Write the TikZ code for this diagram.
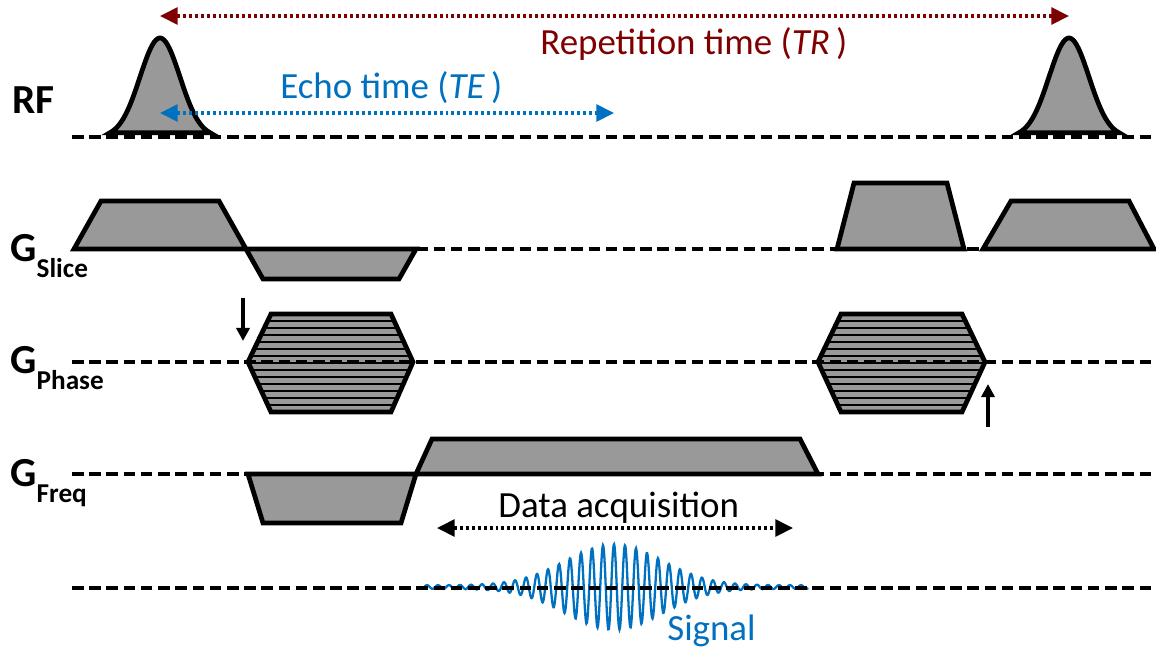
\documentclass[tikz,border=0pt]{standalone}
\usepackage{fontspec}
\setmainfont{Carlito}
\usetikzlibrary{arrows.meta}
\definecolor{trred}{HTML}{7F0000}
\definecolor{teblue}{HTML}{0070C0}

\begin{document}
\begin{tikzpicture}[x=0.02cm, y=-0.02cm,
        lobe/.style={draw=black, fill=black!40, line width=2.7pt, line join=miter},
        axisline/.style={line width=2.5pt, dash pattern=on 6.6pt off 3.2pt},
        span/.style={{Triangle[length=10pt, width=9.5pt]}-{Triangle[length=10pt, width=9.5pt]}, line width=2pt, dash pattern=on 1.7pt off 1.7pt},
        marker/.style={-{Triangle[length=7.5pt, width=7.5pt]}, line width=2pt},
        chan/.style={font=\fontsize{23.5}{26}\selectfont\bfseries, inner sep=0pt, anchor=base west},
        lbl/.style={font=\fontsize{21}{24}\selectfont, inner sep=0pt, anchor=base west}
    ]
        \useasboundingbox (0,0) rectangle (1156,650);

        \node[chan] (rflabel) at (12,113) {RF};
        \node[chan] (slicelabel) at (10,261) {G\raisebox{-9.6pt}{\fontsize{15.5}{16}\selectfont Slice}};
        \node[chan] (phaselabel) at (10,373) {G\raisebox{-9.6pt}{\fontsize{15.5}{16}\selectfont Phase}};
        \node[chan] (freqlabel) at (10,486) {G\raisebox{-9.6pt}{\fontsize{15.5}{16}\selectfont Freq}};

        \draw[lobe] plot[domain=110:210, samples=60] (\x,{137-99*exp(-((\x-160)/20)^2/2)}) -- cycle;
        \draw[lobe] plot[domain=1019:1119, samples=60] (\x,{137-99*exp(-((\x-1069)/20)^2/2)}) -- cycle;

        \draw[lobe] (74,249) -- (101,201) -- (219,201) -- (246,249) -- cycle;
        \draw[lobe] (246,249) -- (263,279) -- (399,279) -- (416,249) -- cycle;
        \draw[lobe] (837,249) -- (854,183) -- (947,183) -- (964,249) -- cycle;
        \draw[lobe] (983,249) -- (1011,201) -- (1129,201) -- (1154,249) -- cycle;

        \foreach \xa/\xb/\xc/\xd in {248/271/391/413, 818/841/962/985} {
            \begin{scope}
                \clip (\xa,362) -- (\xb,314) -- (\xc,314) -- (\xd,362) -- (\xc,412) -- (\xb,412) -- cycle;
                \fill[black!40] (\xa,310) rectangle (\xd,416);
                \foreach \k in {1,...,13}
                    \draw[line width=0.9pt] (\xa,314+\k*7) -- (\xd,314+\k*7);
            \end{scope}
            \draw[lobe, fill=none] (\xa,362) -- (\xb,314) -- (\xc,314) -- (\xd,362) -- (\xc,412) -- (\xb,412) -- cycle;
        }

        \draw[lobe] (248,474) -- (263,523) -- (401,523) -- (416,474) -- cycle;
        \draw[lobe] (416,474) -- (432,439) -- (800,439) -- (818,474) -- cycle;

        \draw[teblue, line width=1.3pt] plot[domain=-4.05:4.05, samples=800] ({614+48*\x},{587-(41*exp(-\x*\x/2)+1.8)*cos(1571*\x)});

        \foreach \yy/\name in {137/rfaxis, 249/sliceaxis, 362/phaseaxis, 474/freqaxis, 588/sigaxis} {
            \coordinate (\name-l) at (72,\yy);
            \coordinate (\name-r) at (1156,\yy);
            \draw[axisline] (\name-l) -- (\name-r);
        }

        \coordinate (trstart) at (160,16);
        \coordinate (trend) at (1069,16);
        \coordinate (testart) at (160,113);
        \coordinate (teend) at (614,113);
        \coordinate (daqstart) at (437,528);
        \coordinate (daqend) at (793,528);
        \coordinate (rewindtop) at (243,298);
        \coordinate (rewindtip) at (243,341);
        \coordinate (prepbot) at (988,427);
        \coordinate (preptip) at (988,384);

        \draw[span, trred] (trstart) -- (trend);
        \draw[span, teblue] (testart) -- (teend);
        \draw[span, black] (daqstart) -- (daqend);
        \draw[marker] (rewindtop) -- (rewindtip);
        \draw[marker] (prepbot) -- (preptip);

        \node[lbl, text=trred] (trlabel) at (540,54) {Repetition time (\textit{TR}\,)};
        \node[lbl, text=teblue] (telabel) at (280,98) {Echo time (\textit{TE}\,)};
        \node[lbl] (daqlabel) at (498,517) {Data acquisition};
        \node[lbl, text=teblue] (siglabel) at (667,640) {Signal};
    \end{tikzpicture}
\end{document}
